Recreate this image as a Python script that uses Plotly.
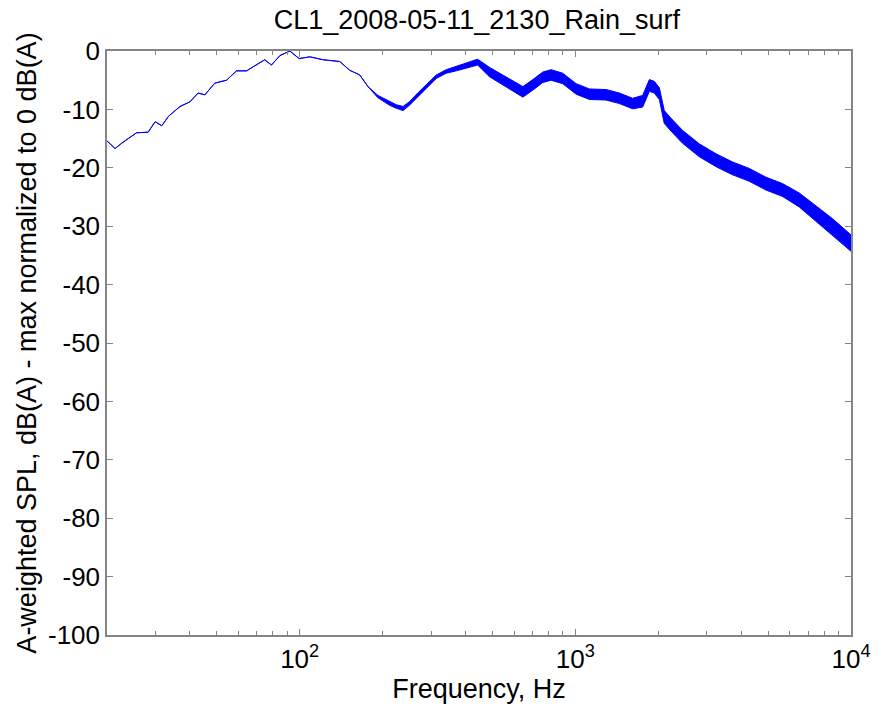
import plotly.graph_objects as go

# ---- data ----
freq_hz = [20, 21.4, 22.6, 23.9, 25.6, 28.2, 29.9, 31.6, 33.4, 36.8, 40.0, 42.8,
           45.3, 49.2, 54.3, 59.0, 64.2, 67.8, 74.7, 79.0, 84.7, 92.1, 99.5, 108.8,
           121.6, 139.8, 151.9, 165.1, 176.9, 192.2, 212, 224, 237, 250, 268, 288,
           313, 340, 370, 402, 442, 488, 561, 610, 645, 701, 762, 817, 900, 1007,
           1125, 1293, 1445, 1614, 1755, 1856, 1934, 2017, 2102, 2223, 2449, 2816,
           3237, 3718, 4272, 4911, 5642, 6487, 7455, 8563, 9573, 10000]

# upper and lower edges of the (noisy) spectrum trace, dB(A)
spl_upper = [-15.4, -16.7, -15.8, -15.0, -14.0, -13.9, -12.1, -12.8, -11.2, -9.5, -8.7, -7.2,
             -7.5, -5.5, -5.0, -3.4, -3.4, -2.7, -1.5, -2.4, -0.8, 0.0, -1.3, -1.0,
             -1.5, -1.8, -3.3, -4.1, -6.1, -7.6, -8.7, -9.2, -9.5, -8.7, -7.2, -5.8,
             -4.1, -3.2, -2.6, -2.1, -1.4, -2.8, -4.4, -5.4, -6.1, -4.9, -3.6, -3.2, -3.8, -5.6,
             -6.5, -6.6, -7.2, -8.1, -7.6, -4.9, -5.2, -6.3, -10.2, -11.5, -13.6, -15.9,
             -17.6, -19.0, -20.1, -21.6, -22.7, -24.3, -26.5, -28.7, -30.7, -31.5]

spl_lower = [-15.4, -16.7, -15.8, -15.0, -14.0, -13.9, -12.1, -12.8, -11.2, -9.5, -8.7, -7.2,
             -7.5, -5.5, -5.0, -3.4, -3.4, -2.7, -1.5, -2.4, -0.8, 0.0, -1.3, -1.0,
             -1.5, -1.8, -3.3, -4.1, -6.1, -8.0, -9.3, -9.8, -10.2, -9.3, -7.8, -6.4,
             -4.7, -3.8, -3.4, -2.9, -2.4, -4.4, -6.2, -7.2, -7.9, -6.7, -5.4, -5.0, -5.6, -7.4,
             -8.3, -8.4, -9.0, -9.9, -9.6, -6.9, -7.2, -8.3, -12.4, -13.7, -15.8, -18.1,
             -19.8, -21.2, -22.3, -23.8, -24.9, -26.7, -29.1, -31.5, -33.5, -34.3]

x_tick_vals = [100, 1000, 10000]
x_tick_text = ["10<sup>2</sup>", "10<sup>3</sup>", "10<sup>4</sup>"]
x_minor_vals = [30, 40, 50, 60, 70, 80, 90, 200, 300, 400, 500, 600, 700,
                800, 900, 2000, 3000, 4000, 5000, 6000, 7000, 8000, 9000]
y_tick_vals = [0, -10, -20, -30, -40, -50, -60, -70, -80, -90, -100]
y_tick_text = ["0", "-10", "-20", "-30", "-40", "-50", "-60", "-70", "-80", "-90", "-100"]

title_text = "CL1_2008-05-11_2130_Rain_surf"
x_label = "Frequency, Hz"
y_label = "A-weighted SPL, dB(A) - max normalized to 0 dB(A)"

# ---- figure ----
blue = "#0000FF"
fig = go.Figure()
fig.add_trace(go.Scatter(x=freq_hz, y=spl_upper, mode="lines",
                         line=dict(color=blue, width=1), showlegend=False,
                         hoverinfo="skip"))
fig.add_trace(go.Scatter(x=freq_hz, y=spl_lower, mode="lines",
                         line=dict(color=blue, width=1), fill="tonexty",
                         fillcolor=blue, showlegend=False))

font_family = "Liberation Sans, Arial, Helvetica, sans-serif"
axis_col = "#858585"

fig.update_layout(
    width=883, height=711,
    margin=dict(l=107, r=32, t=51, b=76),
    paper_bgcolor="white", plot_bgcolor="white",
    font=dict(family=font_family, color="black", size=26),
    title=dict(text=title_text, x=0.54, xanchor="center", y=0.986, yanchor="top",
               font=dict(size=27, color="black")),
    showlegend=False,
)

fig.update_xaxes(
    type="log", range=[1.301, 4.0],
    tickvals=x_tick_vals, ticktext=x_tick_text,
    ticks="inside", ticklen=6, tickcolor=axis_col, tickwidth=1,
    showline=True, linecolor=axis_col, linewidth=1.5, mirror="ticks",
    showgrid=False, zeroline=False,
    tickfont=dict(size=26),
    minor=dict(ticks="inside", ticklen=4, tickcolor=axis_col, showgrid=False,
               tickvals=x_minor_vals),
    title=dict(text=x_label, font=dict(size=27), standoff=1),
)

fig.update_yaxes(
    range=[-100, 0],
    tickvals=y_tick_vals, ticktext=y_tick_text,
    ticks="inside", ticklen=6, tickcolor=axis_col, tickwidth=1,
    showline=True, linecolor=axis_col, linewidth=1.5, mirror="ticks",
    showgrid=False, zeroline=False,
    tickfont=dict(size=26),
    title=dict(text=y_label, font=dict(size=27), standoff=4),
)

fig.write_html("out.html")
